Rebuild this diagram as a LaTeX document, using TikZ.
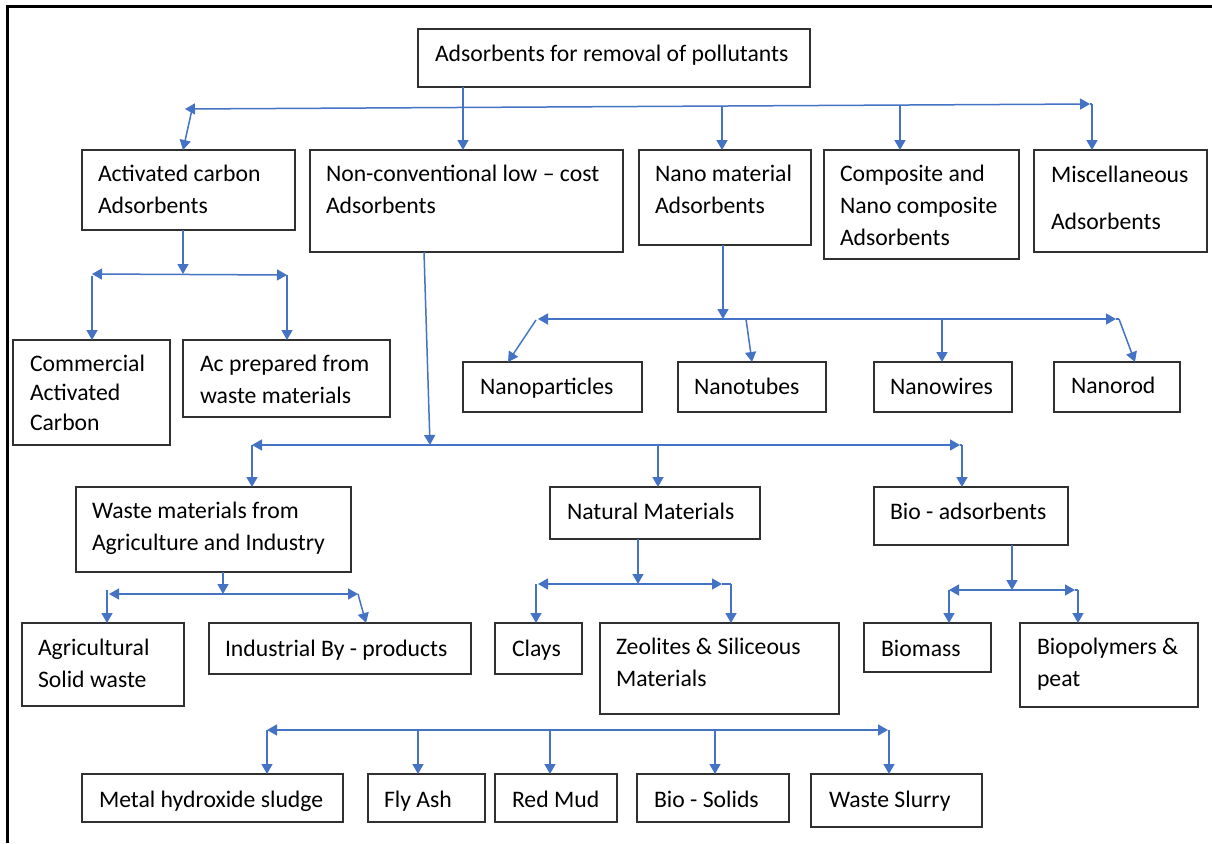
\documentclass[tikz,border=0pt]{standalone}
\usepackage{fontspec}
\setmainfont{Carlito}
\usetikzlibrary{arrows.meta}
\definecolor{lineblue}{HTML}{4472C4}
\definecolor{boxgray}{HTML}{303030}
\tikzset{
  box/.style={draw=boxgray,line width=1.3pt,inner sep=0pt,outer sep=0pt,rectangle},
  txt/.style={inner sep=0pt,outer sep=0pt,align=left,font=\fontsize{23.7}{32}\selectfont},
  conn/.style={draw=lineblue,line width=1.5pt,-{Triangle[length=10pt,width=11pt]}},
  bus/.style={draw=lineblue,line width=1.5pt,{Triangle[length=10pt,width=11pt]}-{Triangle[length=10pt,width=11pt]}},
  wire/.style={draw=lineblue,line width=1.5pt}
}
\newcommand\mybox[5]{\node[box,anchor=north west,minimum width={#4-#2},minimum height={#5-#3}] (#1) at (#2,#3) {};}
\newcommand\mytext[4]{\node[txt,anchor=north west] (#1) at (#2,{#3-22.4}) {\strut #4};}
\begin{document}
\begin{tikzpicture}[x=1pt,y=-1pt]
\useasboundingbox (0,0) rectangle (1212,843);
\fill[white] (0,0) rectangle (1212,843);
\draw[line width=3pt] (7.5,843) -- (7.5,6.5) -- (1212,6.5);

% boxes
\mybox{root}{418}{29}{810}{87}
\mybox{ac}{82}{150}{295}{230}
\mybox{nc}{310}{150}{623}{252}
\mybox{nm}{639}{150}{811}{245}
\mybox{cp}{824}{150}{1019}{259}
\mybox{mi}{1034}{150}{1207}{252}
\mybox{cm}{13}{340}{170}{445}
\mybox{ap}{183}{340}{390}{417}
\mybox{np}{463}{362}{642}{412}
\mybox{ntb}{678}{362}{826}{412}
\mybox{nw}{874}{362}{1012}{412}
\mybox{nr}{1054}{362}{1180}{412}
\mybox{wm}{76}{487}{351}{572}
\mybox{nt}{550}{487}{760}{539}
\mybox{ba}{874}{487}{1068}{545}
\mybox{ag}{22}{623}{184}{706}
\mybox{ib}{209}{623}{471}{674}
\mybox{cl}{495}{623}{582}{674}
\mybox{ze}{600}{623}{839}{714}
\mybox{bm}{864}{623}{991}{672}
\mybox{bp}{1020}{623}{1198}{707}
\mybox{mh}{82}{774}{343}{822}
\mybox{fa}{368}{774}{485}{822}
\mybox{rm}{495}{774}{617}{822}
\mybox{bs}{637}{774}{789}{822}
\mybox{ws}{811}{774}{982}{827}

% texts
\mytext{root-t}{435}{62}{Adsorbents for removal of pollutants}
\mytext{ac-t}{98}{181}{Activated carbon\\Adsorbents}
\mytext{nc-t}{326}{181}{Non-conventional low -- cost\\Adsorbents}
\mytext{nm-t}{655}{181}{Nano material\\Adsorbents}
\mytext{cp-t}{840}{181}{Composite and\\Nano composite\\Adsorbents}
\mytext{mi-t}{1051}{182}{Miscellaneous\\[15pt]Adsorbents}
\mytext{cm-t}{30}{371}{Commercial\\[-2.5pt]Activated\\[-2.5pt]Carbon}
\mytext{ap-t}{200}{371}{Ac prepared from\\waste materials}
\mytext{np-t}{480}{394}{Nanoparticles}
\mytext{ntb-t}{694}{394}{Nanotubes}
\mytext{nw-t}{890}{394}{Nanowires}
\mytext{nr-t}{1071}{393}{Nanorod}
\mytext{wm-t}{92}{518}{Waste materials from\\Agriculture and Industry}
\mytext{nt-t}{567}{519}{Natural Materials}
\mytext{ba-t}{890}{519}{Bio - adsorbents}
\mytext{ag-t}{38}{655}{Agricultural\\Solid waste}
\mytext{ib-t}{225}{656}{Industrial By - products}
\mytext{cl-t}{512}{656}{Clays}
\mytext{ze-t}{616}{654}{Zeolites \& Siliceous\\Materials}
\mytext{bm-t}{881}{656}{Biomass}
\mytext{bp-t}{1037}{654}{Biopolymers \&\\peat}
\mytext{mh-t}{99}{807}{Metal hydroxide sludge}
\mytext{fa-t}{384}{807}{Fly Ash}
\mytext{rm-t}{512}{807}{Red Mud}
\mytext{bs-t}{654}{807}{Bio - Solids}
\mytext{ws-t}{829}{807}{Waste Slurry}

% level 1 bus
\coordinate (b1l) at (185,109);
\coordinate (b1r) at (1090,104);
\coordinate (b1a) at (192,109.5);
\coordinate (b1n) at (722,106);
\coordinate (b1c) at (900,105);
\coordinate (b1m) at (1092,104);
\draw[bus] (b1l) -- (b1r);
\draw[wire] (b1r) -- (b1m);
\draw[conn] ([xshift=45pt]root.south west) -- ([xshift=153pt]nc.north west);
\draw[conn] (b1a) -- ([xshift=101pt]ac.north west);
\draw[conn] (b1n) -- ([xshift=83pt]nm.north west);
\draw[conn] (b1c) -- ([xshift=76pt]cp.north west);
\draw[conn] (b1m) -- ([xshift=58pt]mi.north west);

% activated carbon
\coordinate (b2m) at (183,274);
\coordinate (b2l) at (92,274);
\coordinate (b2r) at (287,275);
\draw[conn] ([xshift=101pt]ac.south west) -- (b2m);
\draw[bus] (b2l) -- (b2r);
\draw[conn] ([yshift=-2pt]b2l) -- ([xshift=79pt]cm.north west);
\draw[conn] (b2r) -- ([xshift=104pt]ap.north west);

% non-conventional
\coordinate (b3m) at (430,445);
\coordinate (b3l) at (252,445);
\coordinate (b3r) at (960,445);
\coordinate (b3n) at (658,445);
\coordinate (b3b) at (962,445);
\draw[conn] ([xshift=114pt]nc.south west) -- (b3m);
\draw[bus] (b3l) -- (b3r);
\draw[wire] (b3r) -- (b3b);
\draw[conn] (b3l) -- ([xshift=176pt]wm.north west);
\draw[conn] (b3n) -- ([xshift=108pt]nt.north west);
\draw[conn] (b3b) -- ([xshift=88pt]ba.north west);

% nano material
\coordinate (b4m) at (723,319);
\coordinate (b4l) at (538,319);
\coordinate (b4r) at (1116,319);
\coordinate (b4a) at (536,320);
\coordinate (b4b) at (746,319);
\coordinate (b4c) at (942,319);
\coordinate (b4d) at (1119,319);
\draw[conn] ([xshift=84pt]nm.south west) -- (b4m);
\draw[bus] (b4l) -- (b4r);
\draw[wire] (b4r) -- (b4d);
\draw[conn] (b4a) -- ([xshift=45pt]np.north west);
\draw[conn] (b4b) -- ([xshift=74pt]ntb.north west);
\draw[conn] (b4c) -- ([xshift=68pt]nw.north west);
\draw[conn] (b4d) -- ([xshift=81pt]nr.north west);

% waste materials
\coordinate (b5m) at (223,594);
\coordinate (b5l) at (109,594);
\coordinate (b5r) at (358,594);
\coordinate (b5a) at (107,590);
\draw[conn] ([xshift=147pt]wm.south west) -- (b5m);
\draw[bus] (b5l) -- (b5r);
\draw[conn] (b5a) -- ([xshift=85pt]ag.north west);
\draw[conn] (b5r) -- ([xshift=157pt]ib.north west);

% natural materials
\coordinate (b6m) at (638,584);
\coordinate (b6l) at (538,584);
\coordinate (b6r) at (722,584);
\coordinate (b6a) at (536,584);
\coordinate (b6b) at (731,584);
\draw[conn] ([xshift=88pt]nt.south west) -- (b6m);
\draw[bus] (b6l) -- (b6r);
\draw[wire] (b6r) -- (b6b);
\draw[conn] (b6a) -- ([xshift=41pt]cl.north west);
\draw[conn] (b6b) -- ([xshift=131pt]ze.north west);

% bio-adsorbents
\coordinate (b7m) at (1012,590);
\coordinate (b7l) at (949,590);
\coordinate (b7r) at (1075,590);
\coordinate (b7b) at (1078,590);
\draw[conn] ([xshift=138pt]ba.south west) -- (b7m);
\draw[bus] (b7l) -- (b7r);
\draw[wire] (b7r) -- (b7b);
\draw[conn] (b7l) -- ([xshift=85pt]bm.north west);
\draw[conn] (b7b) -- ([xshift=58pt]bp.north west);

% bottom bus
\coordinate (b8l) at (267,730);
\coordinate (b8r) at (888,730);
\coordinate (b8a) at (418,730);
\coordinate (b8b) at (550,730);
\coordinate (b8c) at (715,730);
\coordinate (b8d) at (889,730);
\draw[bus] (b8l) -- (b8r);
\draw[conn] (b8l) -- ([xshift=185pt]mh.north west);
\draw[conn] (b8a) -- ([xshift=50pt]fa.north west);
\draw[conn] (b8b) -- ([xshift=55pt]rm.north west);
\draw[conn] (b8c) -- ([xshift=78pt]bs.north west);
\draw[conn] (b8d) -- ([xshift=78pt]ws.north west);
\end{tikzpicture}
\end{document}
